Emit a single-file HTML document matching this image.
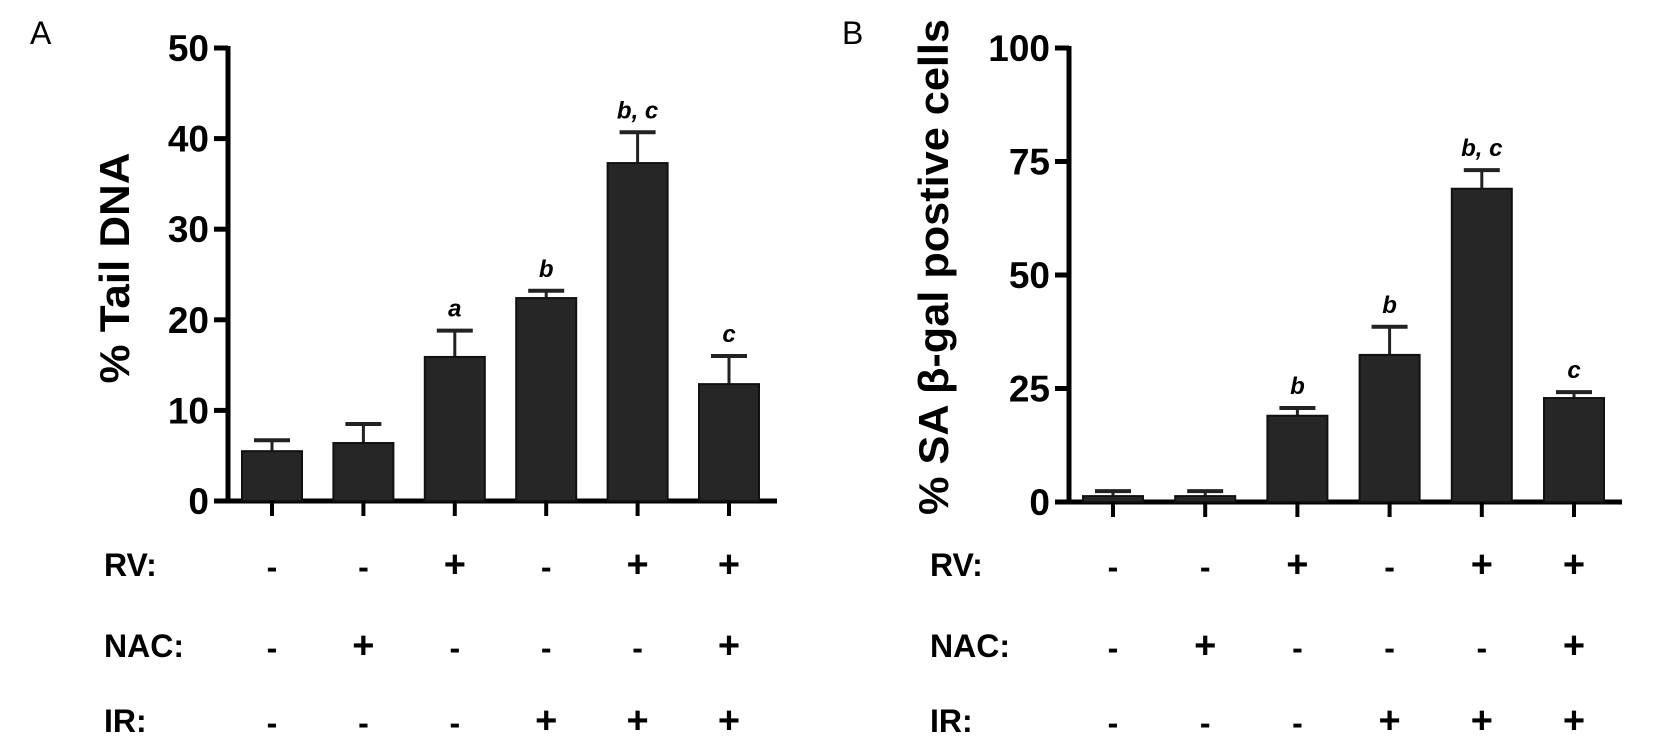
<!DOCTYPE html>
<html><head><meta charset="utf-8"><style>
body{margin:0;background:#fff;}
svg{display:block;font-family:"Liberation Sans",Arial,sans-serif;font-weight:bold;}
</style></head><body>
<svg id="c" width="1654" height="748" viewBox="0 0 1654 748" xmlns="http://www.w3.org/2000/svg"></svg>
<script>
const aValues=[5.5,6.4,15.9,22.4,37.3,12.9];
const aErrors=[1.2,2.1,2.9,0.8,3.4,3.1];
const aLabels=["","","a","b","b, c","c"];
const aTicks=[0,10,20,30,40,50];
const bValues=[1.3,1.3,19,32.4,69,22.9];
const bErrors=[1.1,1.1,1.7,6.2,4.1,1.3];
const bLabels=["","","b","b","b, c","c"];
const bTicks=[0,25,50,75,100];
const rv=["-","-","+","-","+","+"];
const nac=["-","+","-","-","-","+"];
const ir=["-","-","-","+","+","+"];
const NS="http://www.w3.org/2000/svg";
const svg=document.getElementById('c');
function mk(t,a,txt,parent){const e=document.createElementNS(NS,t);for(const k in a)e.setAttribute(k,a[k]);if(txt!==undefined)e.textContent=txt;(parent||svg).appendChild(e);return e;}
function panel(o){
 const g=mk('g',{});
 
 
 const y=v=>o.y0-(v/o.max)*(o.y0-o.yTop);
 const x=i=>o.x0+o.step*i;
 const ax=mk('line',{x1:o.ax,y1:o.yTop-2,x2:o.ax,y2:o.y0+2,stroke:'#000','stroke-width':5},undefined,g);
 
 const xa=mk('line',{x1:o.ax-14,y1:o.y0,x2:o.axEnd,y2:o.y0,stroke:'#000','stroke-width':5},undefined,g);
 
 o.ticks.forEach(t=>{
  mk('line',{x1:o.ax-14,y1:y(t),x2:o.ax,y2:y(t),stroke:'#000','stroke-width':5},undefined,g);
  const tl=mk('text',{x:o.ax-19,y:y(t)+13,'text-anchor':'end','font-size':37},String(t),g);
  
 });
 o.vals.forEach((v,i)=>{
  const cx=x(i);
  const top=v+o.errs[i];
  mk('line',{x1:cx,y1:y(v),x2:cx,y2:y(top),stroke:'#222','stroke-width':3},undefined,g);
  mk('line',{x1:cx-18,y1:y(top),x2:cx+18,y2:y(top),stroke:'#222','stroke-width':4},undefined,g);
  const b=mk('rect',{x:cx-30,y:y(v),width:60,height:o.y0-y(v),fill:'#262626',stroke:'#111','stroke-width':2},undefined,g);
  
  mk('line',{x1:cx,y1:o.y0,x2:cx,y2:o.y0+15,stroke:'#000','stroke-width':4},undefined,g);
  if(o.labs[i]){const s=mk('text',{x:cx,y:y(top)-14,'text-anchor':'middle','font-size':24,'font-style':'italic'},o.labs[i],g);
   }
 });
 [['RV:',rv,564],['NAC:',nac,645],['IR:',ir,720]].forEach(r=>{
  const l=mk('text',{x:o.rowX,y:r[2]+12,'font-size':32},r[0],g);
  
  r[1].forEach((s,i)=>{const t=mk('text',{x:x(i),y:r[2]+(s==='+'?13:14),'text-anchor':'middle','font-size':s==='+'?38:32},s,g);
   });
 });
 const tt=mk('text',{x:0,y:0,'text-anchor':'middle','font-size':42,textLength:o.titleLen,lengthAdjust:'spacingAndGlyphs',transform:`translate(${o.titleX},${o.titleY}) rotate(-90)`},o.title,g);
 
 const pl=mk('text',{x:o.letterX,y:44,'font-size':32,'font-weight':'normal'},o.letter,g);
 
}
panel({name:'panel-a',vals:aValues,errs:aErrors,labs:aLabels,ticks:aTicks,max:50,y0:501,yTop:48,ax:228,axEnd:777,x0:272,step:91.4,rowX:104,title:'% Tail DNA',titleLen:231,titleX:129,titleY:268,letter:'A',letterX:30});
panel({name:'panel-b',vals:bValues,errs:bErrors,labs:bLabels,ticks:bTicks,max:100,y0:502,yTop:48,ax:1069,axEnd:1622,x0:1113,step:92.2,rowX:930,title:'% SA β-gal postive cells',titleLen:496,titleX:948,titleY:267,letter:'B',letterX:842});
</script>
</body></html>
